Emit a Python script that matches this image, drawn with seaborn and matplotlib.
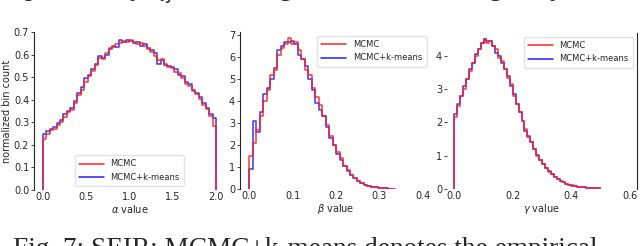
import matplotlib.pyplot as plt
import numpy as np
import pandas as pd
import seaborn as sns

# bin heights (normalized bin counts)
alpha_mcmc = [0.225, 0.25, 0.265, 0.27, 0.29, 0.30, 0.325, 0.345, 0.355, 0.385,
              0.42, 0.445, 0.48, 0.505, 0.525, 0.555, 0.585, 0.58, 0.605, 0.63,
              0.635, 0.645, 0.65, 0.66, 0.655, 0.665, 0.655, 0.645, 0.65, 0.64,
              0.625, 0.61, 0.595, 0.575, 0.58, 0.56, 0.545, 0.54, 0.525, 0.52,
              0.495, 0.47, 0.46, 0.44, 0.425, 0.405, 0.375, 0.36, 0.33, 0.285]
alpha_kmeans = [0.25, 0.26, 0.27, 0.28, 0.295, 0.31, 0.335, 0.35, 0.365, 0.395,
                0.43, 0.455, 0.495, 0.51, 0.535, 0.56, 0.595, 0.585, 0.60, 0.625,
                0.64, 0.635, 0.665, 0.655, 0.665, 0.66, 0.65, 0.655, 0.64, 0.645,
                0.63, 0.62, 0.605, 0.56, 0.575, 0.555, 0.55, 0.545, 0.535, 0.51,
                0.505, 0.48, 0.47, 0.445, 0.43, 0.41, 0.385, 0.365, 0.335, 0.32]

beta_mcmc = [1.5, 2.1, 2.7, 3.3, 4.0, 4.5, 5.2, 5.4, 6.1, 6.4,
             6.6, 6.85, 6.6, 6.7, 6.3, 5.9, 5.4, 5.2, 4.6, 4.2,
             3.8, 3.3, 2.9, 2.4, 2.0, 1.7, 1.4, 1.05, 0.85, 0.65,
             0.5, 0.38, 0.28, 0.2, 0.15, 0.11, 0.08, 0.06, 0.04, 0.03,
             0.02, 0.02]
beta_kmeans = [0.9, 3.1, 2.6, 3.5, 4.3, 4.6, 5.0, 5.5, 6.3, 6.5,
               6.7, 6.7, 6.75, 6.6, 6.1, 5.9, 5.6, 5.0, 4.5, 3.9,
               3.6, 3.3, 2.8, 2.3, 2.0, 1.6, 1.3, 1.05, 0.8, 0.65,
               0.48, 0.38, 0.27, 0.2, 0.14, 0.1, 0.08, 0.06, 0.04, 0.03,
               0.02, 0.01]

gamma_mcmc = [2.15, 2.5, 2.8, 3.0, 3.3, 3.55, 3.8, 4.0, 4.2, 4.4,
              4.5, 4.4, 4.45, 4.3, 4.2, 3.95, 3.85, 3.6, 3.35, 3.15,
              2.8, 2.55, 2.3, 2.05, 1.8, 1.55, 1.4, 1.2, 1.0, 0.88,
              0.75, 0.63, 0.52, 0.45, 0.37, 0.3, 0.25, 0.2, 0.16, 0.13,
              0.11, 0.09, 0.07, 0.06, 0.05, 0.04, 0.03, 0.03, 0.02, 0.02]
gamma_kmeans = [2.25, 2.55, 2.8, 3.1, 3.3, 3.6, 3.8, 4.05, 4.2, 4.4,
                4.5, 4.45, 4.45, 4.3, 4.1, 4.0, 3.8, 3.6, 3.4, 3.1,
                2.85, 2.55, 2.3, 2.05, 1.75, 1.6, 1.4, 1.2, 1.03, 0.88,
                0.74, 0.63, 0.53, 0.44, 0.37, 0.3, 0.24, 0.2, 0.16, 0.13,
                0.1, 0.09, 0.07, 0.06, 0.05, 0.04, 0.03, 0.02, 0.02, 0.02]

alpha_range = (0.0, 2.0)
beta_range = (0.0, 0.336)
gamma_range = (0.0, 0.50)

labels = ["MCMC", "MCMC+k-means"]
colors = {"MCMC": "#ff2020", "MCMC+k-means": "#2020ff"}
EPS = 1e-6


def make_hist(rng, red, blue):
    n = len(red)
    edges = list(np.linspace(rng[0], rng[1], n + 1))
    # empty sliver bins on both sides, so the outline drops to zero at the ends
    edges = [rng[0] - EPS] + edges + [rng[1] + EPS]
    centers = [(a + b) / 2 for a, b in zip(edges[:-1], edges[1:])]
    df = pd.concat([
        pd.DataFrame({"x": centers, "h": [0.0] + list(red) + [0.0], "method": labels[0]}),
        pd.DataFrame({"x": centers, "h": [0.0] + list(blue) + [0.0], "method": labels[1]}),
    ], ignore_index=True)
    return df, [float(e) for e in edges]


sns.set_style("ticks")
plt.rcParams['font.family'] = ['DejaVu Sans']
fig = plt.figure(figsize=(6.4, 2.46), dpi=100)

panels = [
    dict(data=make_hist(alpha_range, alpha_mcmc, alpha_kmeans),
         rect=[34, 190.7, 32, 190], xlim=(-0.1, 2.1), ylim=(0, 0.7),
         xticks=[0.0, 0.5, 1.0, 1.5, 2.0],
         yticks=[0.0, 0.1, 0.2, 0.3, 0.4, 0.5, 0.6, 0.7], ytfmt="{:.1f}",
         xlabel=r"$\alpha$ value", loc="lower center"),
    dict(data=make_hist(beta_range, beta_mcmc, beta_kmeans),
         rect=[240, 190.7, 32, 189], xlim=(-0.0215, 0.418), ylim=(0, 7.14),
         xticks=[0.0, 0.1, 0.2, 0.3, 0.4], yticks=list(range(0, 8)),
         ytfmt="{:d}", xlabel=r"$\beta$ value", loc="upper right"),
    dict(data=make_hist(gamma_range, gamma_mcmc, gamma_kmeans),
         rect=[447, 190, 33, 189], xlim=(-0.025, 0.625), ylim=(0, 4.69),
         xticks=[0.0, 0.2, 0.4, 0.6], yticks=list(range(0, 5)),
         ytfmt="{:d}", xlabel=r"$\gamma$ value", loc="upper right"),
]

W, H = 640, 246
axes = []
for p in panels:
    df, edges = p["data"]
    left, width, top, bottom = p["rect"]
    ax = fig.add_axes([left / W, 1 - bottom / H, width / W, (bottom - top) / H])
    sns.histplot(data=df, x="x", weights="h", hue="method", bins=edges,
                 element="step", fill=False, palette=colors, linewidth=1.1,
                 alpha=0.9, legend=False, ax=ax)
    ax.set_xlim(*p["xlim"])
    ax.set_ylim(*p["ylim"])
    ax.set_xticks(p["xticks"])
    ax.set_xticklabels(["{:.1f}".format(t) for t in p["xticks"]])
    ax.set_yticks(p["yticks"])
    ax.set_yticklabels([p["ytfmt"].format(t) for t in p["yticks"]])
    ax.tick_params(labelsize=7, length=2, width=0.6, pad=1.5)
    ax.tick_params(axis="x", length=0)
    ax.set_xlabel(p["xlabel"], fontsize=7, labelpad=1)
    ax.set_ylabel("")
    sns.despine(ax=ax, bottom=True)
    ax.spines["left"].set_linewidth(0.8)
    handles = [plt.Line2D([], [], color=colors[m], lw=1.1) for m in labels]
    ax.legend(handles, labels, loc=p["loc"], fontsize=6, frameon=True,
              framealpha=0.8, edgecolor="#dddddd", fancybox=True,
              handlelength=3, borderpad=0.5)
    axes.append(ax)

axes[0].set_ylabel("normalized bin count", fontsize=7, labelpad=1)
# the third panel shows no left spine but a right one
axes[2].spines["left"].set_visible(False)
axes[2].spines["right"].set_visible(True)
axes[2].spines["right"].set_linewidth(0.8)

# caption lines of the page, cut by the crop
fig.text(24 / W, 1 + 4.5 / H, "probability $q_j$ of the target location $Q$ along the y-axis",
         family="Liberation Serif", fontsize=19.6, va="baseline", ha="left")
fig.text(13 / W, -9.5 / H, "Fig. 7: SEIR: MCMC+k-means denotes the empirical",
         family="Liberation Serif", fontsize=19.6, va="baseline", ha="left")

fig.savefig("out.png", dpi=100)
